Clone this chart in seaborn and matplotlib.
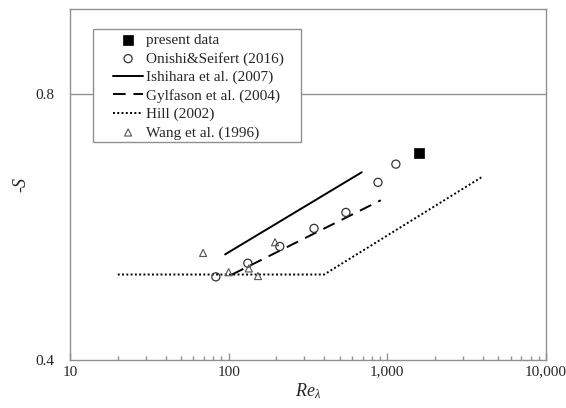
import numpy as np
import pandas as pd
import matplotlib
matplotlib.use("Agg")
import matplotlib.pyplot as plt
import matplotlib.patches as mpatches
import seaborn as sns
from matplotlib.ticker import FixedLocator, FixedFormatter, NullFormatter, LogLocator

# ---------------------------------------------------------------------------
# Data
# ---------------------------------------------------------------------------
present_re = [1580]
present_s = [0.686]

onishi_re = [83, 132, 210, 345, 548, 873, 1132]
onishi_s = [0.497, 0.515, 0.538, 0.564, 0.588, 0.636, 0.667]

ishihara_re = [95, 690]
ishihara_s = [0.527, 0.653]

gylfason_re = [105, 910]
gylfason_s = [0.500, 0.607]

hill_re = [20, 400, 4000]
hill_s = [0.500, 0.500, 0.646]

wang_re = [69, 100, 134, 153, 196]
wang_s = [0.529, 0.503, 0.508, 0.498, 0.544]

x_ticks = [10, 100, 1000, 10000]
x_tick_labels = ["10", "100", "1,000", "10,000"]
y_ticks = [0.4, 0.8]
y_tick_labels = ["0.4", "0.8"]

# ---------------------------------------------------------------------------
# Style
# ---------------------------------------------------------------------------
sns.set_style("white")
plt.rcParams["font.family"] = ["Liberation Serif", "DejaVu Serif"]
plt.rcParams["mathtext.fontset"] = "custom"
plt.rcParams["mathtext.it"] = "Liberation Serif:italic"
plt.rcParams["mathtext.rm"] = "Liberation Serif"

spine_col = "#909090"

fig = plt.figure(figsize=(5.66, 4.08), dpi=100)
ax = fig.add_axes([70 / 566, 48 / 408, 476 / 566, 351 / 408])

sns.scatterplot(x=present_re, y=present_s, ax=ax, marker="s", s=45,
                color="black", edgecolor="black", linewidth=0.5,
                label="present data", zorder=5)
sns.scatterplot(x=onishi_re, y=onishi_s, ax=ax, marker="o", s=34,
                facecolor="none", edgecolor="#333333", linewidth=0.9,
                label="Onishi&Seifert (2016)", zorder=4)
sns.lineplot(x=ishihara_re, y=ishihara_s, ax=ax, color="black", linewidth=1.4,
             label="Ishihara et al. (2007)")
sns.lineplot(x=gylfason_re, y=gylfason_s, ax=ax, color="black", linewidth=1.4,
             label="Gylfason et al. (2004)").lines[-1].set_dashes([6.5, 4])
sns.lineplot(x=hill_re, y=hill_s, ax=ax, color="black", linewidth=1.4,
             label="Hill (2002)").lines[-1].set_dashes([1, 1.2])
sns.scatterplot(x=wang_re, y=wang_s, ax=ax, marker="^", s=26,
                facecolor="none", edgecolor="#555555", linewidth=0.8,
                label="Wang et al. (1996)", zorder=4)

ax.set_xscale("log")
ax.set_yscale("log")
ax.set_xlim(10, 10000)
ax.set_ylim(0.4, 1.0)

ax.xaxis.set_major_locator(FixedLocator(x_ticks))
ax.xaxis.set_major_formatter(FixedFormatter(x_tick_labels))
ax.xaxis.set_minor_locator(LogLocator(base=10, subs=np.arange(2, 10)))
ax.xaxis.set_minor_formatter(NullFormatter())
ax.yaxis.set_major_locator(FixedLocator(y_ticks))
ax.yaxis.set_major_formatter(FixedFormatter(y_tick_labels))
ax.yaxis.set_minor_locator(FixedLocator([]))

ax.tick_params(axis="x", which="major", direction="in", length=5, width=1,
               color=spine_col, labelsize=11, pad=4, bottom=True)
ax.tick_params(axis="x", which="minor", direction="in", length=3, width=1,
               color=spine_col, bottom=True)
ax.tick_params(axis="y", which="both", length=0, labelsize=11, pad=11)

ax.grid(False)
ax.axhline(0.8, color=spine_col, linewidth=1, zorder=0)
for sp in ax.spines.values():
    sp.set_color(spine_col)
    sp.set_linewidth(1)

ax.set_xlabel(r"$Re_{\lambda}$", fontsize=13, labelpad=2)
ax.set_ylabel(r"-$S$", fontsize=13, labelpad=4)

# legend without its own frame; frame drawn as a separate box to get the
# wide side padding of the original
leg = ax.legend(loc="upper left", bbox_to_anchor=(0.09, 0.93), fontsize=11,
                frameon=False, labelspacing=0.3, handlelength=2.0,
                handletextpad=0.15, borderpad=0, borderaxespad=0)
frame = mpatches.Rectangle((0.0483, 0.621), 0.437, 0.322, transform=ax.transAxes,
                           facecolor="white", edgecolor=spine_col, linewidth=1,
                           zorder=3)
ax.add_patch(frame)
leg.set_zorder(6)

fig.savefig("out.png", dpi=100)
